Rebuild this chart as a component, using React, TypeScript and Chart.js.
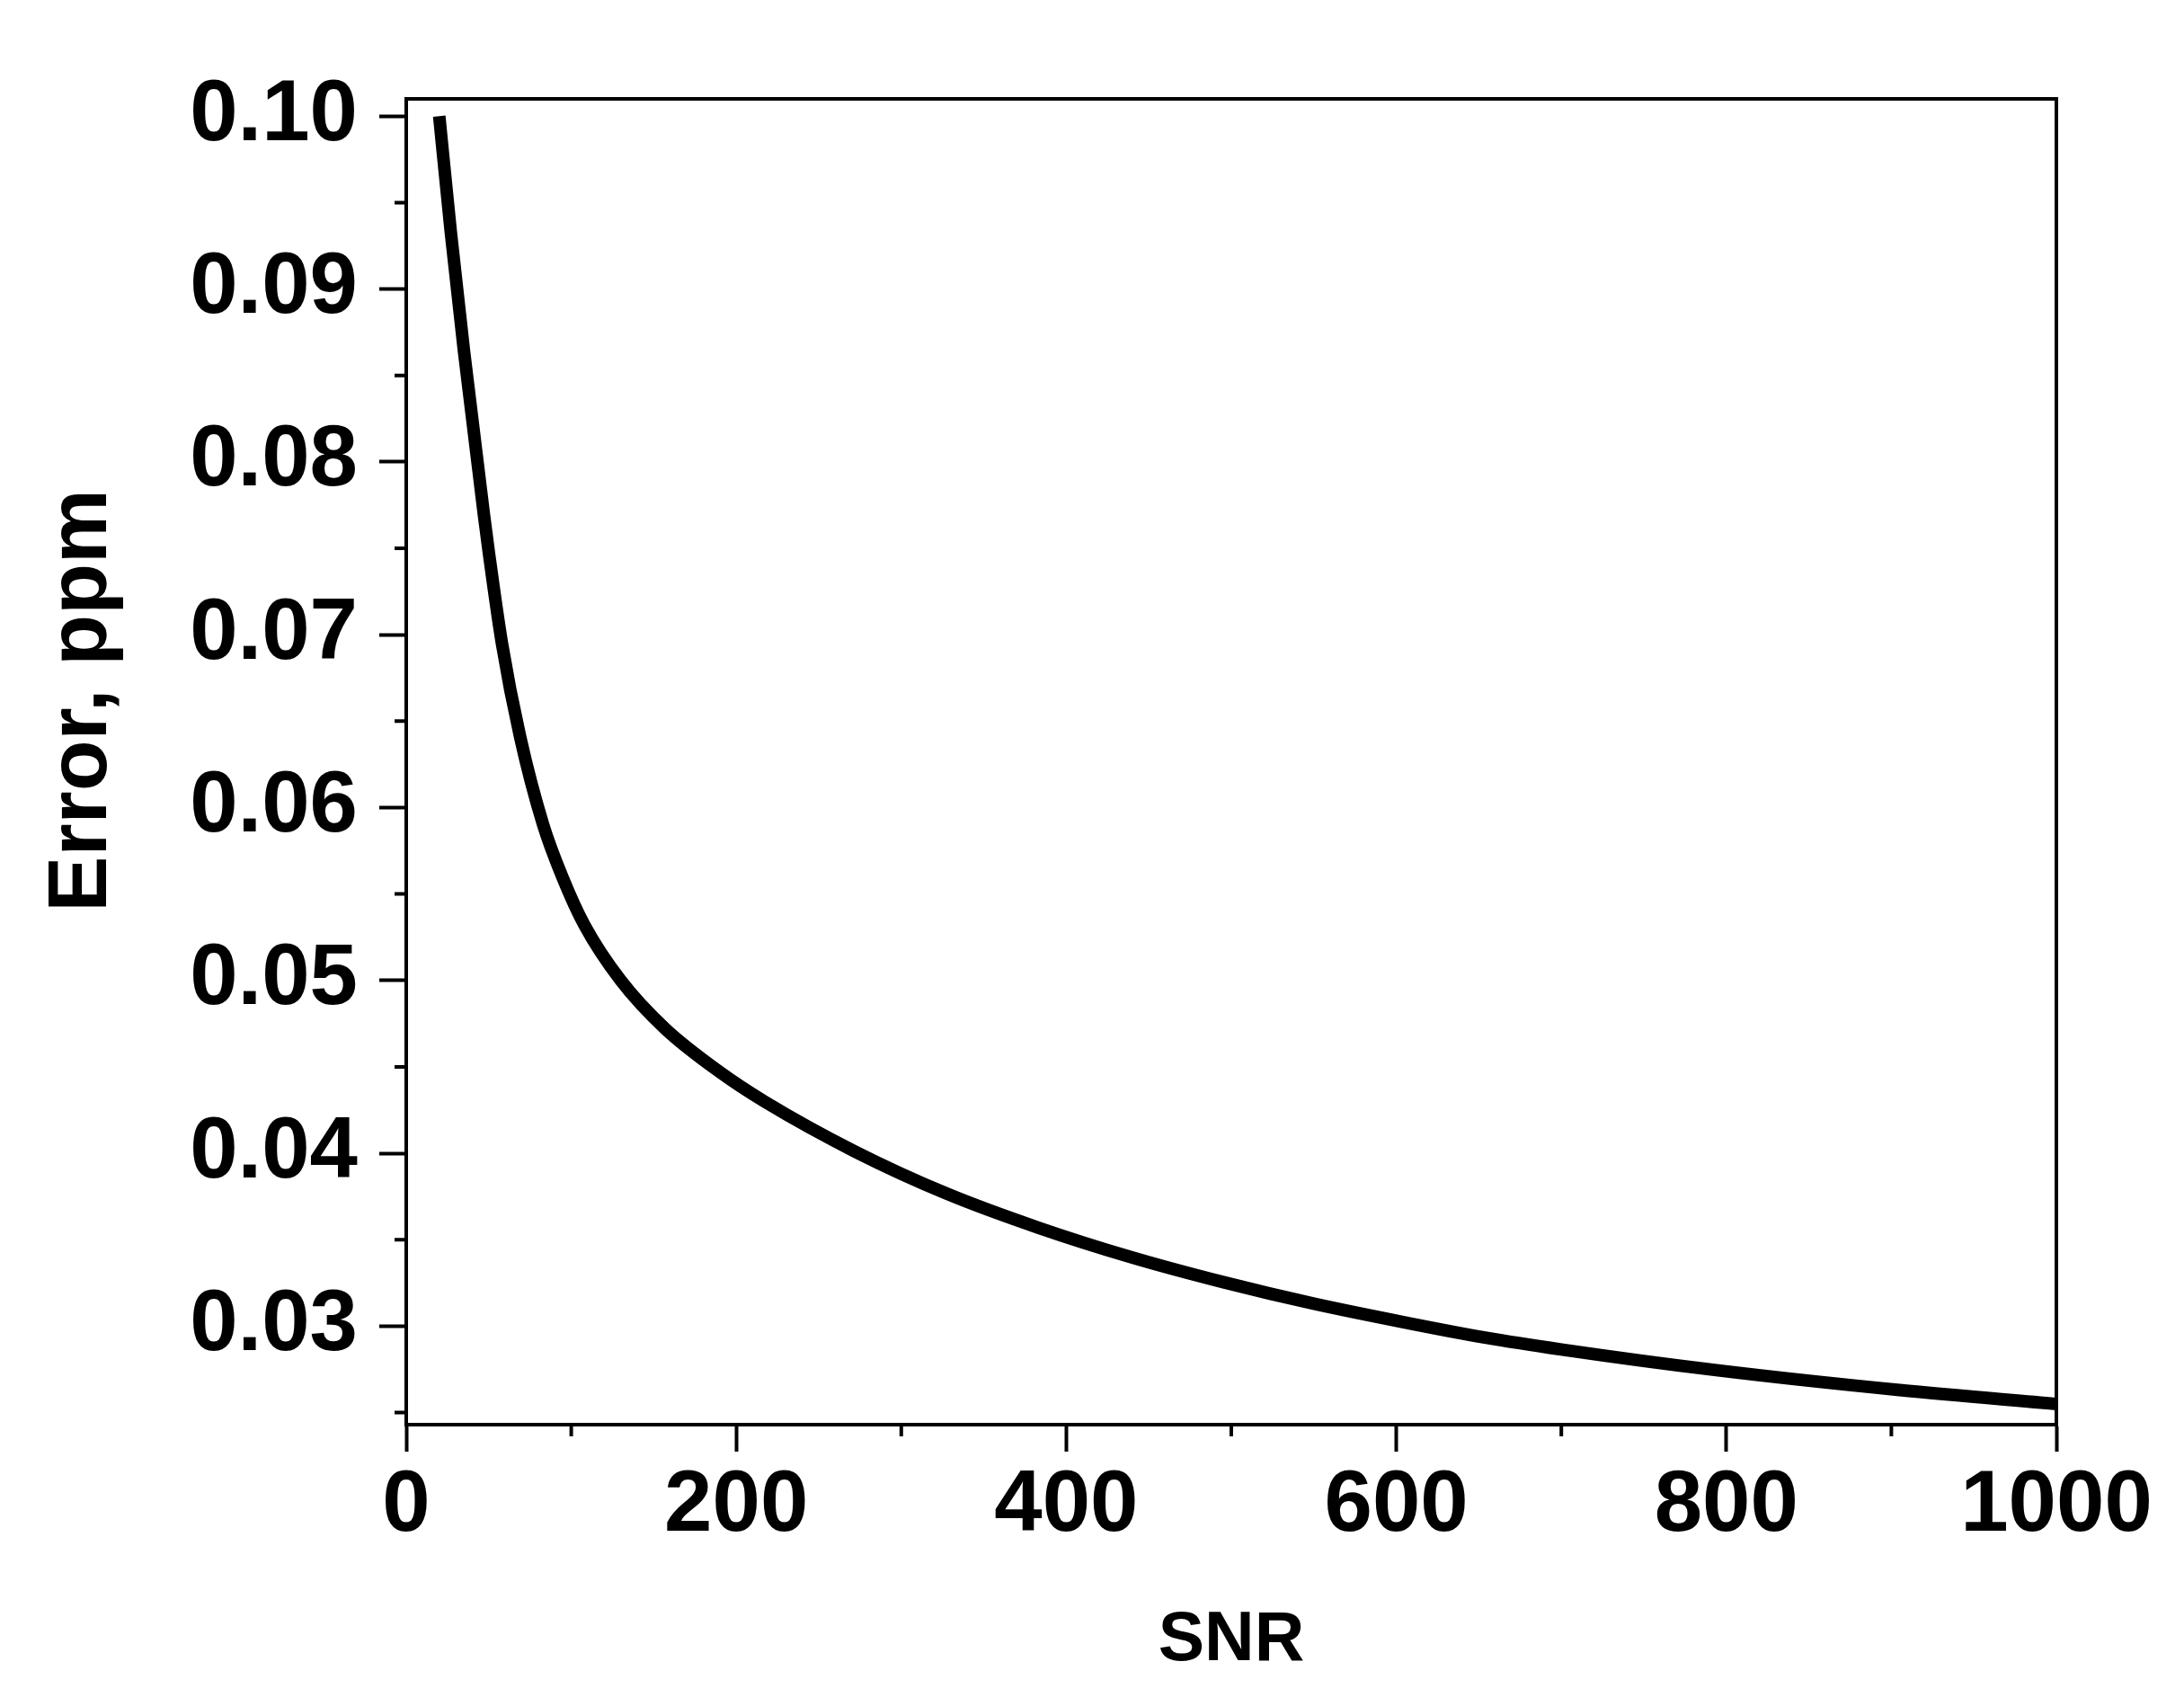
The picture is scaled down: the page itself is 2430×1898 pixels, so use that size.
import React, { useEffect, useRef } from 'react';
import { Chart, registerables } from 'chart.js';

Chart.register(...registerables);

// ---- data ----
const snrValues = [20, 27, 35, 47, 50, 58, 69, 83, 95, 108, 130, 157, 190, 217, 272, 328, 383, 439, 495, 550, 606, 653, 700, 794, 905, 1000];
const errorValues = [0.1, 0.0933, 0.0864, 0.077, 0.0748, 0.0695, 0.0641, 0.059, 0.0559, 0.0532, 0.05, 0.0472, 0.0447, 0.043, 0.0401, 0.03765, 0.0357, 0.034, 0.03255, 0.0313, 0.0302, 0.02935, 0.02865, 0.02745, 0.0263, 0.0255];

const xTickValues = [0, 200, 400, 600, 800, 1000];
const xMinorTickValues = [100, 300, 500, 700, 900];
const yTickValues = [0.03, 0.04, 0.05, 0.06, 0.07, 0.08, 0.09, 0.1];
const yMinorTickValues = [0.025, 0.035, 0.045, 0.055, 0.065, 0.075, 0.085, 0.095];

const xMin = 0;
const xMax = 1000;
const yMin = 0.0243;
const yMax = 0.101;

const xTitle = 'SNR';
const yTitle = 'Error, ppm';

const FONT = "'Liberation Sans', Arial, Helvetica, sans-serif";

const frameAndMinorTicks = {
  id: 'frameAndMinorTicks',
  afterDraw(chart: any) {
    const { ctx, chartArea, scales } = chart;
    const { left, right, top, bottom } = chartArea;
    ctx.save();
    ctx.strokeStyle = '#000';
    ctx.lineWidth = 4;
    ctx.lineCap = 'butt';
    // top and right frame lines
    ctx.beginPath();
    ctx.moveTo(left - 2, top);
    ctx.lineTo(right, top);
    ctx.lineTo(right, bottom + 2);
    ctx.stroke();
    // minor ticks
    ctx.beginPath();
    yMinorTickValues.forEach((v) => {
      const py = scales.y.getPixelForValue(v);
      ctx.moveTo(left - 13, py);
      ctx.lineTo(left, py);
    });
    xMinorTickValues.forEach((v) => {
      const px = scales.x.getPixelForValue(v);
      ctx.moveTo(px, bottom);
      ctx.lineTo(px, bottom + 13);
    });
    ctx.stroke();
    // y axis title
    ctx.fillStyle = '#000';
    ctx.font = `bold 93px ${FONT}`;
    ctx.textAlign = 'center';
    ctx.textBaseline = 'middle';
    ctx.translate(left - 360, (top + bottom) / 2 - 68);
    ctx.rotate(-Math.PI / 2);
    ctx.fillText(yTitle, 0, 0);
    ctx.restore();
  },
};

export default function App() {
  const canvasRef = useRef<HTMLCanvasElement | null>(null);

  useEffect(() => {
    if (!canvasRef.current) return;
    const points = snrValues.map((x, i) => ({ x, y: errorValues[i] }));
    const chart = new Chart(canvasRef.current, {
      type: 'line',
      data: {
        datasets: [
          {
            data: points,
            borderColor: '#000',
            borderWidth: 14,
            pointRadius: 0,
            fill: false,
            cubicInterpolationMode: 'monotone',
          },
        ],
      },
      options: {
        animation: false,
        responsive: false,
        devicePixelRatio: 1,
        maintainAspectRatio: false,
        layout: { padding: { top: 110, right: 142, bottom: 0, left: 0 } },
        plugins: {
          legend: { display: false },
          tooltip: { enabled: false },
        },
        scales: {
          x: {
            type: 'linear',
            min: xMin,
            max: xMax,
            afterFit: (s: any) => {
              s.height = 313;
            },
            afterBuildTicks: (s: any) => {
              s.ticks = xTickValues.map((v) => ({ value: v }));
            },
            grid: {
              drawOnChartArea: false,
              drawTicks: true,
              tickLength: 30,
              tickWidth: 4,
              tickColor: '#000',
            },
            border: { display: true, color: '#000', width: 4 },
            ticks: {
              autoSkip: false,
              maxRotation: 0,
              padding: 4,
              color: '#000',
              font: { family: FONT, size: 96, weight: 'bold' },
              callback: (v: any) => String(v),
            },
            title: {
              display: true,
              text: xTitle,
              color: '#000',
              font: { family: FONT, size: 77, weight: 'bold', lineHeight: 1.2 },
              padding: { top: 0, bottom: 26 },
            },
          },
          y: {
            type: 'linear',
            min: yMin,
            max: yMax,
            afterFit: (s: any) => {
              s.width = 452;
            },
            afterBuildTicks: (s: any) => {
              s.ticks = yTickValues.map((v) => ({ value: v }));
            },
            grid: {
              drawOnChartArea: false,
              drawTicks: true,
              tickLength: 30,
              tickWidth: 4,
              tickColor: '#000',
            },
            border: { display: true, color: '#000', width: 4 },
            ticks: {
              autoSkip: false,
              padding: 24,
              color: '#000',
              font: { family: FONT, size: 96, weight: 'bold' },
              callback: (v: any) => Number(v).toFixed(2),
            },
          },
        },
      },
      plugins: [frameAndMinorTicks],
    });
    return () => chart.destroy();
  }, []);

  return (
    <div style={{ position: 'fixed', left: 0, top: 0, width: 2430, height: 1898, background: '#fff' }}>
      <canvas ref={canvasRef} width={2430} height={1898} style={{ width: 2430, height: 1898, display: 'block' }} />
    </div>
  );
}
